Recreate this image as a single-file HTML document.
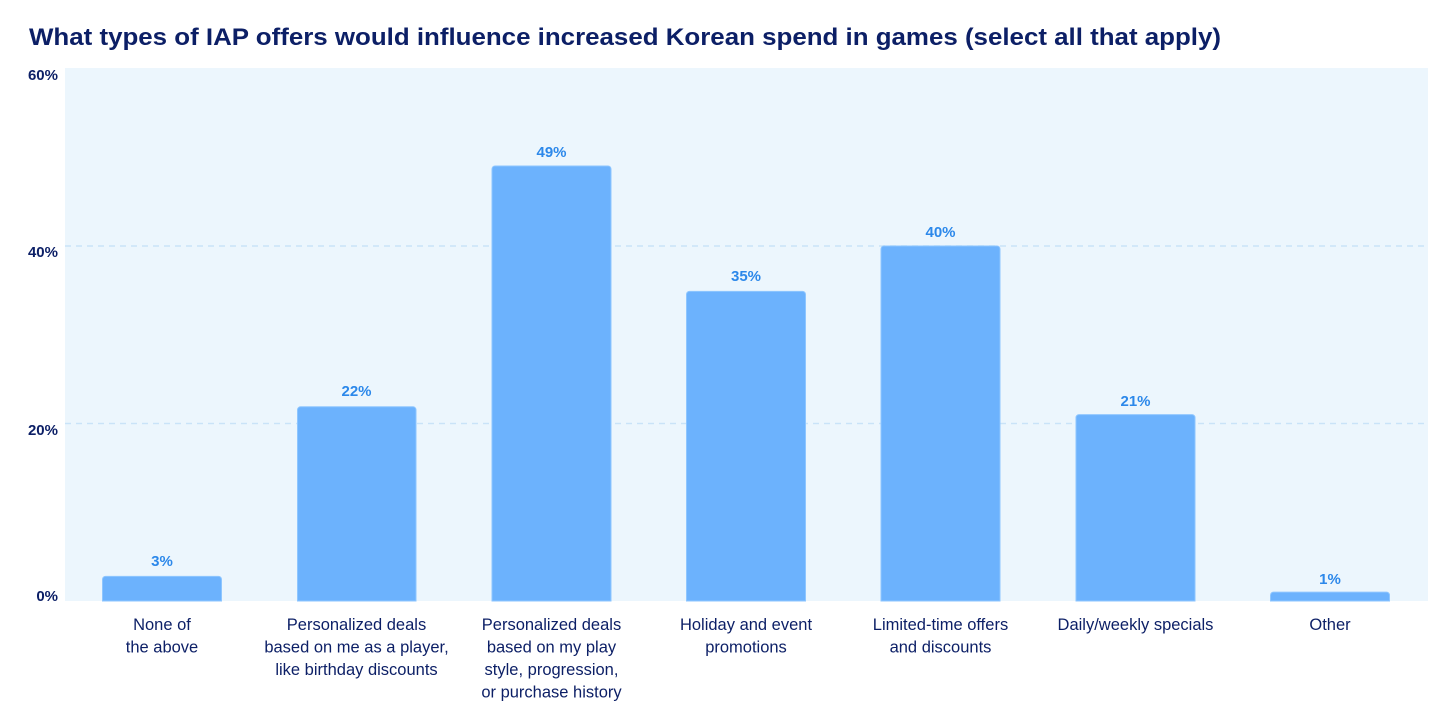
<!DOCTYPE html>
<html>
<head>
<meta charset="utf-8">
<style>
  html, body { margin: 0; padding: 0; background: #ffffff; }
  svg { display: block; }
  text { font-family: "Liberation Sans", "DejaVu Sans", sans-serif; }
</style>
</head>
<body>
<svg width="1456" height="728" viewBox="0 0 1456 728" xmlns="http://www.w3.org/2000/svg">
  <rect x="0" y="0" width="1456" height="728" fill="#ffffff"/>
  <!-- Title -->
  <text x="29" y="45" font-size="24" font-weight="bold" fill="#0c1f66" textLength="1192" lengthAdjust="spacingAndGlyphs">What types of IAP offers would influence increased Korean spend in games  (select all that apply)</text>

  <!-- Plot background -->
  <rect x="65" y="68" width="1363" height="533" fill="#ecf6fd"/>

  <!-- Gridlines -->
  <line x1="65" y1="423.5" x2="1428" y2="423.5" stroke="#c9e3f8" stroke-width="1.5" stroke-dasharray="6,5"/>
  <line x1="65" y1="246" x2="1428" y2="246" stroke="#c9e3f8" stroke-width="1.5" stroke-dasharray="6,5"/>

  <!-- Y axis labels -->
  <g font-size="15" font-weight="bold" fill="#0c1f66" text-anchor="end">
    <text x="58" y="80">60%</text>
    <text x="58" y="257">40%</text>
    <text x="58" y="435">20%</text>
    <text x="58" y="601">0%</text>
  </g>

  <!-- Bars -->
  <g fill="#6cb2fd" stroke="#8ec6ff" stroke-width="1">
    <path d="M102.5,601 V579.4 a3,3 0 0 1 3,-3 H218.5 a3,3 0 0 1 3,3 V601 Z"/>
    <path d="M297.5,601 V409.8 a3,3 0 0 1 3,-3 H413 a3,3 0 0 1 3,3 V601 Z"/>
    <path d="M492,601 V169 a3,3 0 0 1 3,-3 H608 a3,3 0 0 1 3,3 V601 Z"/>
    <path d="M686.5,601 V294.4 a3,3 0 0 1 3,-3 H802.5 a3,3 0 0 1 3,3 V601 Z"/>
    <path d="M881,601 V249 a3,3 0 0 1 3,-3 H997 a3,3 0 0 1 3,3 V601 Z"/>
    <path d="M1076,601 V417.6 a3,3 0 0 1 3,-3 H1192 a3,3 0 0 1 3,3 V601 Z"/>
    <path d="M1270.5,601 V595.1 a3,3 0 0 1 3,-3 H1386.5 a3,3 0 0 1 3,3 V601 Z"/>
  </g>

  <!-- Value labels -->
  <g font-size="15" font-weight="bold" fill="#2c88ea" text-anchor="middle">
    <text x="162" y="566">3%</text>
    <text x="356.5" y="396">22%</text>
    <text x="551.5" y="157">49%</text>
    <text x="746" y="281">35%</text>
    <text x="940.5" y="237">40%</text>
    <text x="1135.5" y="406">21%</text>
    <text x="1330" y="584">1%</text>
  </g>

  <!-- Category labels -->
  <g font-size="16.5" fill="#0c1f66" text-anchor="middle">
    <text x="162" y="630">None of</text>
    <text x="162" y="652.5">the above</text>

    <text x="356.5" y="630">Personalized deals</text>
    <text x="356.5" y="652.5">based on me as a player,</text>
    <text x="356.5" y="675">like birthday discounts</text>

    <text x="551.5" y="630">Personalized deals</text>
    <text x="551.5" y="652.5">based on my play</text>
    <text x="551.5" y="675">style, progression,</text>
    <text x="551.5" y="697.5">or purchase history</text>

    <text x="746" y="630">Holiday and event</text>
    <text x="746" y="652.5">promotions</text>

    <text x="940.5" y="630">Limited-time offers</text>
    <text x="940.5" y="652.5">and discounts</text>

    <text x="1135.5" y="630">Daily/weekly specials</text>

    <text x="1330" y="630">Other</text>
  </g>
</svg>
</body>
</html>
